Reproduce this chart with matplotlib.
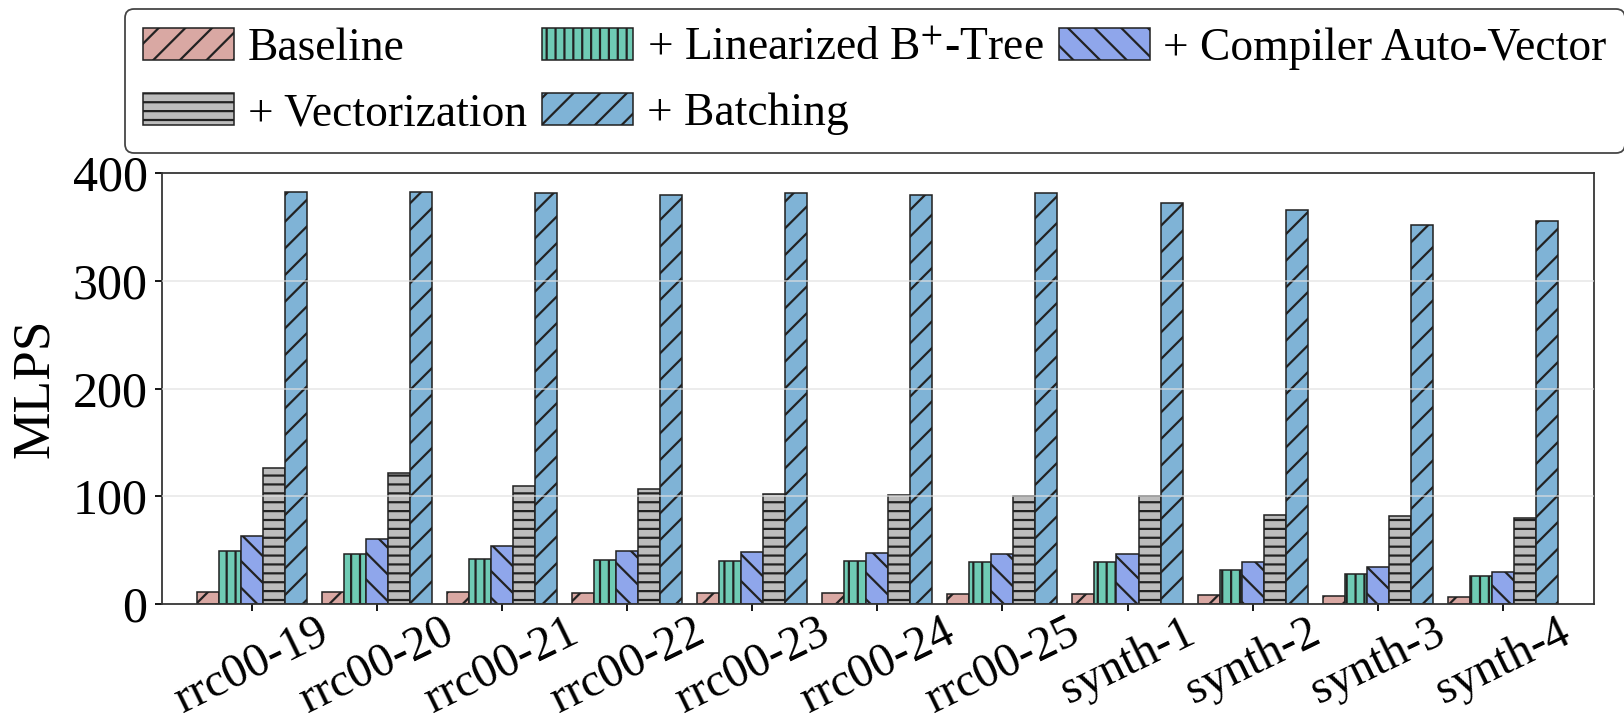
import numpy as np
import matplotlib
matplotlib.use("Agg")
import matplotlib.pyplot as plt

plt.rcParams['font.family'] = ['Liberation Serif', 'DejaVu Serif']
plt.rcParams['mathtext.fontset'] = 'stix'
plt.rcParams['hatch.linewidth'] = 1.0

# data (MLPS)
datasets = ["rrc00-19", "rrc00-20", "rrc00-21", "rrc00-22", "rrc00-23", "rrc00-24",
            "rrc00-25", "synth-1", "synth-2", "synth-3", "synth-4"]
baseline = [11, 11, 10.8, 10, 10, 10, 9.5, 9.3, 8.6, 7, 6.1]
linearized = [49.5, 46.5, 42, 41, 40, 40, 39, 39, 31.6, 28, 26.3]
compiler_vec = [63.5, 60.4, 53.5, 49, 48, 47, 46, 46.7, 39, 34.4, 29.7]
vectorization = [126.4, 121.7, 109.3, 107, 102, 101, 100, 100.3, 82.3, 81.4, 79.9]
batching = [382, 382, 381.5, 380, 381, 380, 381, 372.5, 366, 352, 355]

series = [
    ("Baseline", baseline, '#d9a8a3', '//'),
    ("+ Linearized B$^{+}$-Tree", linearized, '#6fcbb4', '|||'),
    ("+ Compiler Auto-Vector", compiler_vec, '#8fa6eb', '\\\\'),
    ("+ Vectorization", vectorization, '#bcbcbc', '---'),
    ("+ Batching", batching, '#7fb3d6', '//'),
]

fig = plt.figure(figsize=(1624 / 160, 721 / 160), dpi=160)
ax = fig.add_axes([162 / 1624, 1 - 604 / 721, (1594 - 162) / 1624, (604 - 173) / 721])

x = np.arange(len(datasets))
w = 0.176
handles = []
for i, (label, vals, color, hatch) in enumerate(series):
    b = ax.bar(x + (i - 2) * w, vals, w, color=color, edgecolor='#222222',
               linewidth=0.7, hatch=hatch, label=label, zorder=2)
    handles.append(b)

# grid lines drawn lightly over the bars
for yv in [100, 200, 300]:
    ax.axhline(yv, color='#e0e0e0', alpha=0.6, linewidth=0.9, zorder=3)

ax.set_ylim(0, 400)
ax.set_xlim(-0.72, len(datasets) - 1 + 0.73)
ax.set_yticks([0, 100, 200, 300, 400])
ax.tick_params(axis='y', labelsize=22.5, length=3, width=0.8)
ax.tick_params(axis='x', labelsize=21.5, length=3, width=0.8, pad=0)
ax.set_xticks(x)
ax.set_xticklabels(datasets, rotation=26)
ax.set_ylabel("MLPS", fontsize=24)
ax.yaxis.set_label_coords(-0.072, 0.5)
for s in ax.spines.values():
    s.set_color('#333333')
    s.set_linewidth(0.8)

# legend order: column-wise fill so rows read as in the original
order = [0, 3, 1, 4, 2]
leg = fig.legend([handles[k] for k in order], [series[k][0] for k in order],
                 loc='upper left', bbox_to_anchor=(125 / 1624, 1 - 9 / 721),
                 ncol=3, fontsize=20.5, frameon=True, fancybox=True,
                 borderaxespad=0, borderpad=0.4, labelspacing=0.5,
                 handlelength=2.0, handleheight=0.7, handletextpad=0.3,
                 columnspacing=0.33)
leg.get_frame().set_edgecolor('#444444')
leg.get_frame().set_linewidth(0.8)
leg.get_frame().set_alpha(1)

fig.savefig("out.png", dpi=160)
